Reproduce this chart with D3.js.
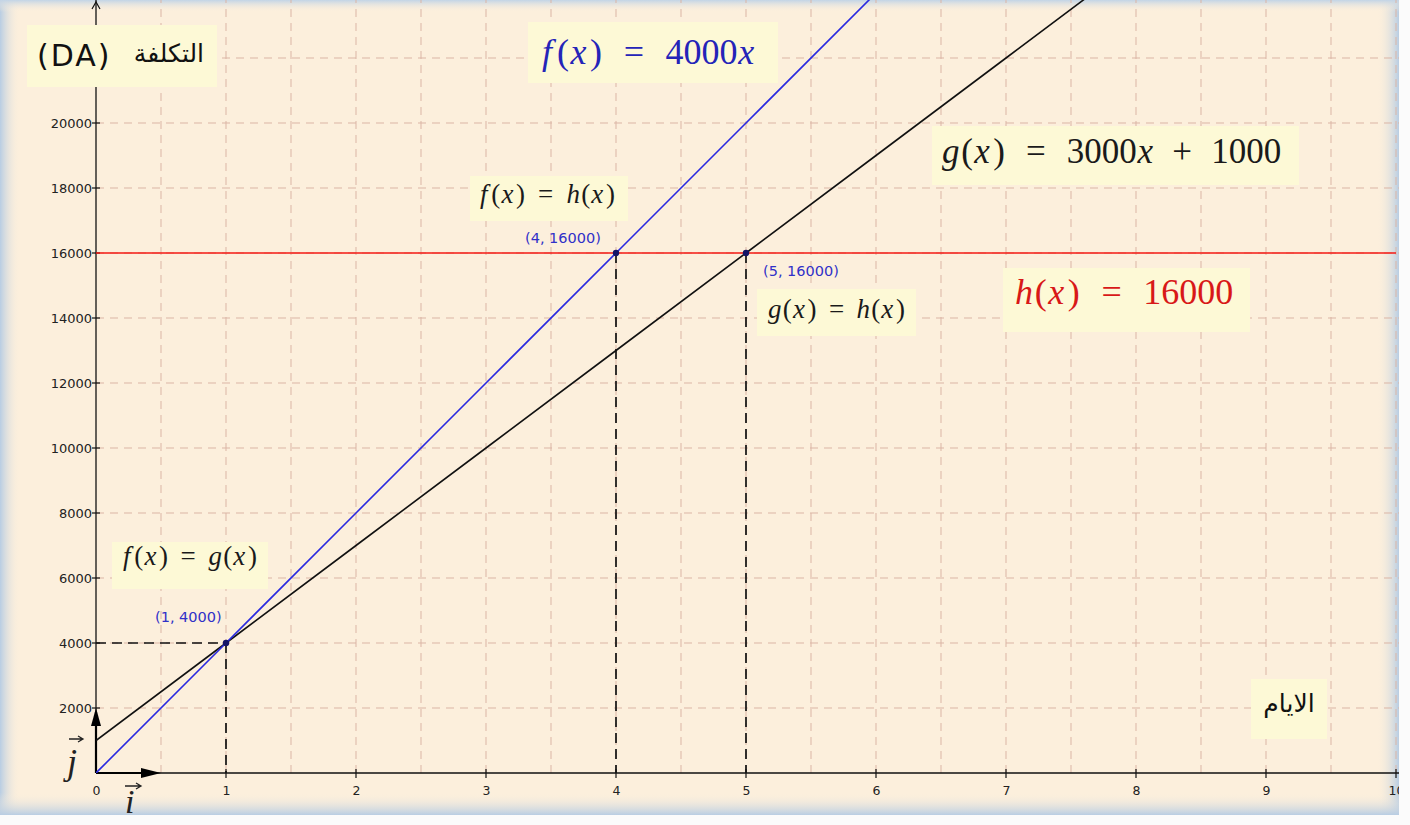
<!DOCTYPE html>
<html><head><meta charset="utf-8">
<script src="https://cdn.jsdelivr.net/npm/d3@7"></script>
<style>html,body{margin:0;padding:0;background:#fbfbfb;}svg{display:block}</style>
</head><body>
<script>
// ---- data ----
const xTickValues = [0,1,2,3,4,5,6,7,8,9,10];
const yTickValues = [2000,4000,6000,8000,10000,12000,14000,16000,18000,20000];
const xGridValues = [0.5,1,1.5,2,2.5,3,3.5,4,4.5,5,5.5,6,6.5,7,7.5,8,8.5,9,9.5,10];
const yGridValues = [2000,4000,6000,8000,10000,12000,14000,16000,18000,20000,22000];
const xs      = [0,1,2,3,4,5,6,7,8,9,10];
const fValues = [0,4000,8000,12000,16000,20000,24000,28000,32000,36000,40000];
const gValues = [1000,4000,7000,10000,13000,16000,19000,22000,25000,28000,31000];
const hValues = [16000,16000,16000,16000,16000,16000,16000,16000,16000,16000,16000];
const interX = [1,4,5];
const interY = [4000,16000,16000];
const interLabels = ["(1, 4000)","(4, 16000)","(5, 16000)"];

const W=1410,H=825;
const svg=d3.select("body").append("svg").attr("width",W).attr("height",H);
const defs=svg.append("defs");
const x=d3.scaleLinear().domain([0,10]).range([96,1396]);
const y=d3.scaleLinear().domain([0,22000]).range([773,58]);

// panel
const PW=1399, PH=815;
defs.append("clipPath").attr("id","panel").append("rect").attr("x",0).attr("y",0).attr("width",PW).attr("height",PH);
function grad(id,x1,y1,x2,y2,stops){const g=defs.append("linearGradient").attr("id",id).attr("x1",x1).attr("y1",y1).attr("x2",x2).attr("y2",y2);stops.forEach(s=>g.append("stop").attr("offset",s[0]).attr("stop-color",s[1]).attr("stop-opacity",s[2]));}
grad("gl",0,0,1,0,[[0,"#b8cde3",1],[1,"#fcefdc",0]]);
grad("gr",0,0,1,0,[[0,"#fcefdc",0],[1,"#b8cde3",1]]);
grad("gt",0,0,0,1,[[0,"#c2d4e6",1],[1,"#fcefdc",0]]);
grad("gb",0,0,0,1,[[0,"#fcefdc",0],[1,"#b8cde3",1]]);
const P=svg.append("g").attr("clip-path","url(#panel)");
P.append("rect").attr("width",PW).attr("height",PH).attr("fill","#fcefdc");
P.append("rect").attr("x",0).attr("y",0).attr("width",20).attr("height",PH).attr("fill","url(#gl)");
P.append("rect").attr("x",PW-22).attr("y",0).attr("width",22).attr("height",PH).attr("fill","url(#gr)");
P.append("rect").attr("x",0).attr("y",0).attr("width",PW).attr("height",12).attr("fill","url(#gt)");
P.append("rect").attr("x",0).attr("y",PH-22).attr("width",PW).attr("height",22).attr("fill","url(#gb)");

// grid
const gridC="#dbb5a5";
P.append("g").selectAll("line").data(xGridValues).join("line")
 .attr("x1",d=>x(d)).attr("x2",d=>x(d)).attr("y1",y(0)).attr("y2",0)
 .attr("stroke",gridC).attr("stroke-width",1).attr("stroke-dasharray","8,6");
P.append("g").selectAll("line").data(yGridValues).join("line")
 .attr("x1",x(0)).attr("x2",PW).attr("y1",d=>y(d)).attr("y2",d=>y(d))
 .attr("stroke",gridC).attr("stroke-width",1).attr("stroke-dasharray","8,6");

// axes
const tickFont="DejaVu Sans, Liberation Sans, Arial";
const xAxis=d3.axisBottom(x).tickValues(xTickValues).tickSize(0).tickPadding(13).tickFormat(d3.format("d"));
const xa=P.append("g").attr("transform",`translate(0,${y(0)})`).call(xAxis);
xa.select(".domain").remove();
xa.selectAll("text").attr("font-family",tickFont).attr("font-size",12.5).attr("fill","#222");
P.append("line").attr("x1",x(0)).attr("x2",PW).attr("y1",y(0)).attr("y2",y(0)).attr("stroke","#111").attr("stroke-width",1.3);
P.append("g").selectAll("line").data(xTickValues.filter(d=>d>0)).join("line")
 .attr("x1",d=>x(d)).attr("x2",d=>x(d)).attr("y1",y(0)-4).attr("y2",y(0)+5).attr("stroke","#111").attr("stroke-width",1.2);

const yAxis=d3.axisLeft(y).tickValues(yTickValues).tickSize(0).tickPadding(4).tickFormat(d3.format("d"));
const ya=P.append("g").attr("transform",`translate(${x(0)},0)`).call(yAxis);
ya.select(".domain").remove();
ya.selectAll("text").attr("font-family",tickFont).attr("font-size",13).attr("fill","#222");
P.append("g").selectAll("line").data(yTickValues).join("line")
 .attr("x1",x(0)-4).attr("x2",x(0)+4).attr("y1",d=>y(d)).attr("y2",d=>y(d)).attr("stroke","#111").attr("stroke-width",1.2);
P.append("line").attr("x1",x(0)).attr("x2",x(0)).attr("y1",y(0)).attr("y2",0).attr("stroke","#111").attr("stroke-width",1.3);
P.append("path").attr("d",`M${x(0)-4},9 L${x(0)},2 L${x(0)+4},9`).attr("fill","none").attr("stroke","#111").attr("stroke-width",1.2);

// vectors i, j
const o=[x(0),y(0)];
P.append("line").attr("x1",o[0]).attr("y1",o[1]).attr("x2",x(0.5)-4).attr("y2",o[1]).attr("stroke","#000").attr("stroke-width",2.2);
P.append("path").attr("d",`M${x(0.5)},${o[1]} L${x(0.5)-20},${o[1]-5} L${x(0.5)-20},${o[1]+5}Z`).attr("fill","#000");
P.append("line").attr("x1",o[0]).attr("y1",o[1]).attr("x2",o[0]).attr("y2",y(2000)+4).attr("stroke","#000").attr("stroke-width",2.2);
P.append("path").attr("d",`M${o[0]},${y(2000)} L${o[0]-5},${y(2000)+18} L${o[0]+5},${y(2000)+18}Z`).attr("fill","#000");
P.append("text").attr("x",o[0]-29).attr("y",o[1]+1).attr("font-family","Liberation Serif, serif").attr("font-style","italic").attr("font-size",36).attr("fill","#222").text("j");
P.append("path").attr("d",`M${o[0]-27},${o[1]-34} L${o[0]-14},${o[1]-34} M${o[0]-18},${o[1]-37} L${o[0]-13},${o[1]-34} L${o[0]-18},${o[1]-31}`).attr("fill","none").attr("stroke","#222").attr("stroke-width",1.3);
P.append("text").attr("x",o[0]+29).attr("y",o[1]+40).attr("font-family","Liberation Serif, serif").attr("font-style","italic").attr("font-size",34).attr("fill","#222").text("i");
P.append("path").attr("d",`M${o[0]+29},${o[1]+13} L${o[0]+44},${o[1]+13} M${o[0]+40},${o[1]+10} L${o[0]+45},${o[1]+13} L${o[0]+40},${o[1]+16}`).attr("fill","none").attr("stroke","#222").attr("stroke-width",1.3);

// projection dashes
const dash="10,6";
P.append("line").attr("x1",x(0)).attr("x2",x(interX[0])).attr("y1",y(interY[0])).attr("y2",y(interY[0])).attr("stroke","#111").attr("stroke-width",1.7).attr("stroke-dasharray",dash);
P.append("g").selectAll("line").data(interX).join("line")
 .attr("x1",d=>x(d)).attr("x2",d=>x(d)).attr("y1",(d,i)=>y(interY[i])).attr("y2",y(0))
 .attr("stroke","#111").attr("stroke-width",1.7).attr("stroke-dasharray",dash);

// function lines
defs.append("clipPath").attr("id","plot").append("rect").attr("x",x(0)).attr("y",0).attr("width",PW-x(0)).attr("height",y(0));
const L=P.append("g").attr("clip-path","url(#plot)");
const line=d3.line().x((d,i)=>x(xs[i])).y(d=>y(d));
L.append("path").attr("d",line(hValues)).attr("fill","none").attr("stroke","#f41a14").attr("stroke-width",1.6);
L.append("path").attr("d",line(gValues)).attr("fill","none").attr("stroke","#111").attr("stroke-width",1.6);
L.append("path").attr("d",line(fValues)).attr("fill","none").attr("stroke","#2a2ae0").attr("stroke-width",1.6);

// intersection points
P.append("g").selectAll("circle").data(interX).join("circle")
 .attr("cx",d=>x(d)).attr("cy",(d,i)=>y(interY[i])).attr("r",3.2).attr("fill","#141466");
const plOff=[[-71,-21],[-91,-10],[17,23]];
P.append("g").selectAll("text").data(interLabels).join("text")
 .attr("x",(d,i)=>x(interX[i])+plOff[i][0]).attr("y",(d,i)=>y(interY[i])+plOff[i][1])
 .attr("font-family","DejaVu Sans, Liberation Sans").attr("font-size",14.5).attr("fill","#3030c8").text(d=>d);

// label boxes
const boxFill="#fdf9d6";
// token: [text, italic, dx in em]; gaps >= 0.2em are operator gaps that absorb width differences
function mathLabel(tokens,o){
  P.append("rect").attr("x",o.bx).attr("y",o.by).attr("width",o.bw).attr("height",o.bh).attr("fill",boxFill);
  const t=P.append("text").attr("x",o.x).attr("y",o.y).attr("font-family","Liberation Serif, serif").attr("font-size",o.size).attr("fill",o.color);
  const spans=tokens.map(p=>t.append("tspan").attr("font-style",p[1]?"italic":"normal").attr("dx",(p[2]||0)*o.size).text(p[0]));
  const w=t.node().getBBox().width;
  const gapIdx=tokens.map((p,i)=>(p[2]||0)>=0.2?i:-1).filter(i=>i>=0);
  const extra=Math.max(-0.15*o.size,Math.min(0.3*o.size,(o.len-w)/gapIdx.length));
  gapIdx.forEach(i=>spans[i].attr("dx",tokens[i][2]*o.size+extra));
}
const I=1,N=0;
const fx=(l)=>[[l,I,0],["(",N,l==="f"?0.14:0.05],["x",I,0.04],[")",N,0.1]];
const EQ=["=",N,0.3], sp=0.3;
const fxr=(l)=>fx(l).map((t,i)=>i===0?[t[0],t[1],sp]:t);
mathLabel([...fx("f"),EQ,["4000",N,sp],["x",I,0.02]],{x:542,y:64,size:36,len:218,color:"#2424b8",bx:528,by:22,bw:250,bh:61});
mathLabel([...fx("g"),EQ,["3000",N,sp],["x",I,0.02],["+",N,0.25],["1000",N,0.25]],{x:942,y:163,size:35,len:345,color:"#1a1a1a",bx:932,by:126,bw:367,bh:59});
mathLabel([...fx("h"),EQ,["16000",N,sp]],{x:1015,y:304,size:36,len:222,color:"#d81818",bx:1003,by:268,bw:247,bh:64});
mathLabel([...fx("f"),EQ,...fxr("h")],{x:480,y:203,size:27,len:135,color:"#1a1a1a",bx:470,by:176,bw:158,bh:45});
mathLabel([...fx("g"),EQ,...fxr("h")],{x:768,y:318,size:27,len:137,color:"#1a1a1a",bx:757,by:289,bw:159,bh:47});
mathLabel([...fx("f"),EQ,...fxr("g")],{x:123,y:565,size:27,len:134,color:"#1a1a1a",bx:112,by:542,bw:156,bh:47});

// axis titles
P.append("rect").attr("x",27).attr("y",25).attr("width",190).attr("height",62).attr("fill",boxFill);
P.append("text").attr("x",37).attr("y",66).attr("font-family","DejaVu Sans, Liberation Sans").attr("font-size",30).attr("letter-spacing",2).attr("fill","#111").text("(DA)");
P.append("text").attr("x",204).attr("y",62).attr("text-anchor","end").attr("font-family","DejaVu Sans").attr("font-size",25).attr("fill","#111").text("التكلفة");
P.append("rect").attr("x",1251).attr("y",679).attr("width",76).attr("height",60).attr("fill",boxFill);
P.append("text").attr("x",1289).attr("y",712).attr("text-anchor","middle").attr("font-family","DejaVu Sans").attr("font-size",25).attr("fill","#111").text("الايام");
</script>
</body></html>
